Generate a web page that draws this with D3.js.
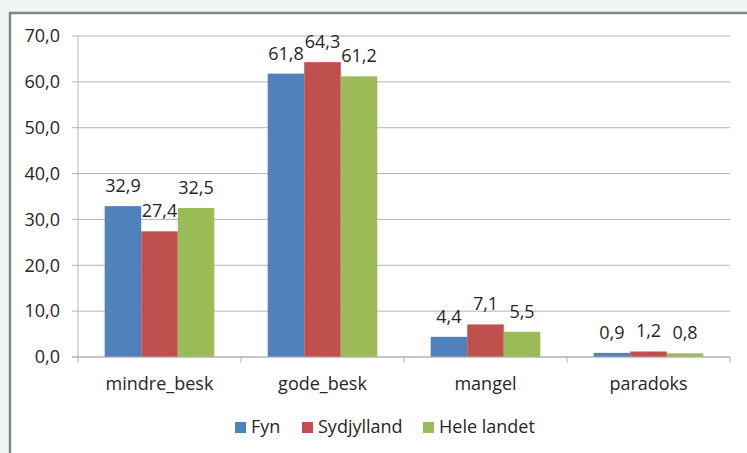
<!DOCTYPE html>
<html>
<head>
<meta charset="utf-8">
<script src="https://cdn.jsdelivr.net/npm/d3@7"></script>
<style>
  body { margin: 0; background: #eff5f5; overflow: hidden; }
  svg { display: block; }
  text { font-family: "Open Sans", Lato, sans-serif; fill: #262626; }
</style>
</head>
<body>
<div id="chart"></div>
<script>
var categories = ["mindre_besk", "gode_besk", "mangel", "paradoks"]
var seriesNames = ["Fyn", "Sydjylland", "Hele landet"]
var fyn = [32.9, 61.8, 4.4, 0.9]
var sydjylland = [27.4, 64.3, 7.1, 1.2]
var heleLandet = [32.5, 61.2, 5.5, 0.8]
var yTicks = [0, 10, 20, 30, 40, 50, 60, 70]
var colors = ["#4f81bd", "#c0504d", "#9bbb59"]

var W = 747, H = 453
var margin = { top: 36, right: 17, bottom: 96, left: 78 }
var width = W - margin.left - margin.right
var height = H - margin.top - margin.bottom
var fontSize = 18

var series = [fyn, sydjylland, heleLandet]
var fmt = function(v) { return d3.format(".1f")(v).replace(".", ",") }

var svg = d3.select("#chart").append("svg")
            .attr("width", W)
            .attr("height", H)

// chart box
svg.append("rect")
    .attr("x", 10).attr("y", 13)
    .attr("width", W + 20).attr("height", H + 20)
    .attr("fill", "#fff")
    .attr("stroke", "#868686")
    .attr("stroke-width", 2.5)

var g = svg.append("g")
            .attr("transform", "translate(" + margin.left + "," + margin.top + ")")

var x = d3.scaleBand().domain(categories).range([0, width])
var x1 = d3.scaleBand().domain(seriesNames).range([0, x.bandwidth()]).paddingOuter(0.73)
var y = d3.scaleLinear().domain([0, 70]).range([height, 0])

// grid lines
g.selectAll(".grid")
    .data(yTicks)
    .join("line")
    .attr("x1", -6).attr("x2", width)
    .attr("y1", d => y(d)).attr("y2", d => y(d))
    .attr("stroke", "#b3b3b3")
    .attr("stroke-width", 1)

g.append("line")
    .attr("x1", 0).attr("x2", 0)
    .attr("y1", 0).attr("y2", height)
    .attr("stroke", "#b3b3b3")

g.selectAll(".ylab")
    .data(yTicks)
    .join("text")
    .attr("x", -18)
    .attr("y", d => y(d))
    .attr("dy", "0.35em")
    .attr("text-anchor", "end")
    .attr("font-size", fontSize)
    .text(fmt)

// category ticks
g.selectAll(".xtick")
    .data(d3.range(categories.length + 1))
    .join("line")
    .attr("x1", d => d * x.step()).attr("x2", d => d * x.step())
    .attr("y1", height).attr("y2", height + 6)
    .attr("stroke", "#b3b3b3")

var bars = []
categories.forEach((c, i) => {
    seriesNames.forEach((s, j) => {
        bars.push({ cat: c, name: s, value: series[j][i], color: colors[j] })
    })
})

g.selectAll(".bar")
    .data(bars)
    .join("rect")
    .attr("x", d => x(d.cat) + x1(d.name))
    .attr("y", d => y(d.value))
    .attr("width", x1.bandwidth())
    .attr("height", d => height - y(d.value))
    .attr("fill", d => d.color)

g.selectAll(".vlab")
    .data(bars)
    .join("text")
    .attr("x", d => x(d.cat) + x1(d.name) + x1.bandwidth() / 2)
    .attr("y", d => y(d.value) - 14)
    .attr("text-anchor", "middle")
    .attr("font-size", fontSize)
    .text(d => fmt(d.value))

// x axis line over bars
g.append("line")
    .attr("x1", -6).attr("x2", width)
    .attr("y1", height).attr("y2", height)
    .attr("stroke", "#b3b3b3")

g.selectAll(".xlab")
    .data(categories)
    .join("text")
    .attr("x", d => x(d) + x.bandwidth() / 2)
    .attr("y", height + 33)
    .attr("text-anchor", "middle")
    .attr("font-size", fontSize)
    .text(d => d)

// legend
var legendX = [235, 302, 423]
var legend = svg.selectAll(".leg")
    .data(seriesNames)
    .join("g")
    .attr("transform", (d, i) => "translate(" + legendX[i] + ",422)")

legend.append("rect")
    .attr("width", 11).attr("height", 11)
    .attr("fill", (d, i) => colors[i])

legend.append("text")
    .attr("x", 16).attr("y", 11)
    .attr("font-size", fontSize)
    .text(d => d)
</script>
</body>
</html>
